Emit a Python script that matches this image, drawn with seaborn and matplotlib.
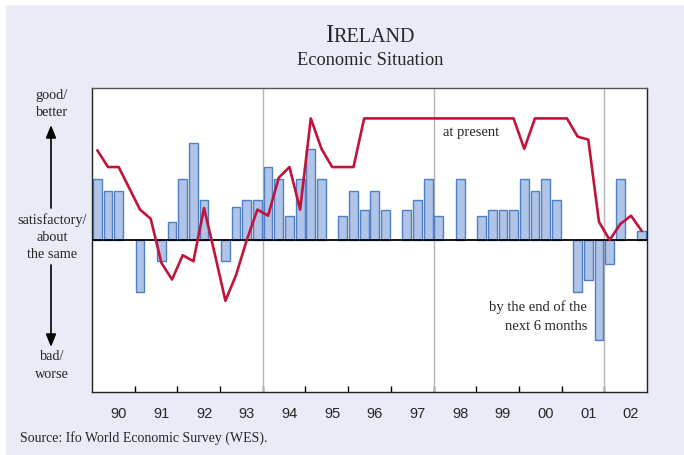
import numpy as np
import pandas as pd
import matplotlib
matplotlib.use("Agg")
import matplotlib.pyplot as plt
from matplotlib.patches import Rectangle, FancyArrowPatch
import seaborn as sns

# ---- data (quarterly, 1990Q1 .. 2002Q4; balance scale -100..100) ----
years = ["90", "91", "92", "93", "94", "95", "96", "97", "98", "99", "00", "01", "02"]
# expectations "by the end of the next 6 months" (bars); None = no survey
expect = [40, 32, 32, None, -34, None, -14, 12,
          40, 64, 26, None, -14, 22, 26, 26,
          48, 40, 16, 40, 60, 40, None, 16,
          32, 20, 32, 20, None, 20, 26, 40,
          16, None, 40, None, 16, 20, 20, 20,
          40, 32, 40, 26, None, -34, -26, -66,
          -16, 40, None, 6]
# "at present" (line)
present = [59, 48, 48, 34, 20, 14, -15, -26,
           -10, -14, 21, -9, -40, -23, 0, 20,
           16, 41, 48, 20, 80, 60, 48, 48,
           48, 80, 80, 80, 80, 80, 80, 80,
           80, 80, 80, 80, 80, 80, 80, 80,
           60, 80, 80, 80, 80, 68, 66, 12,
           0, 10.5, 16, 6]

quarter = np.arange(len(present))
df_bar = pd.DataFrame({"q": quarter, "v": expect}).dropna()
df_line = pd.DataFrame({"q": quarter, "v": present})

W, H = 684, 455
BG = "#E9EBF7"
SERIF = ["Liberation Serif", "DejaVu Serif"]
SANS = ["Liberation Sans", "DejaVu Sans"]

sns.set_style("white")
plt.rcParams["font.family"] = SERIF

fig = plt.figure(figsize=(W / 100, H / 100), dpi=100, facecolor="white")
fig.patches.append(Rectangle((6 / W, 0), 1 - 6 / W, 1 - 5 / H, transform=fig.transFigure,
                             facecolor=BG, edgecolor="none", zorder=-10))

ax = fig.add_axes([92 / W, 1 - 392 / H, (647 - 92) / W, (392 - 88) / H])
ax.set_facecolor("white")

sns.barplot(data=df_bar, x="q", y="v", native_scale=True, width=0.82,
            color="#AFC4E7", edgecolor="#4F80C6", linewidth=1.0, saturation=1,
            errorbar=None, ax=ax, zorder=2)
sns.lineplot(data=df_line, x="q", y="v", color="#C0143C", linewidth=1.9, ax=ax, zorder=4)

ax.axhline(0, color="black", linewidth=1.3, zorder=3)
for xv in (15.5, 31.5, 47.5):
    ax.axvline(xv, color="#B4B4B4", linewidth=1.0, zorder=1)

ax.set_xlim(-0.5, len(present) - 0.5)
ax.set_ylim(-100, 100)
ax.set_xlabel("")
ax.set_ylabel("")
ax.set_yticks([])
ax.set_xticks(np.arange(3.5, len(present) - 1, 4))
ax.set_xticklabels([])
ax.tick_params(axis="x", which="major", direction="in", length=4, width=1, color="black", bottom=True)
ax.set_xticks(np.arange(len(years)) * 4 + 2, minor=True)
ax.set_xticklabels(years, minor=True, fontfamily=SANS, fontsize=10.5)
ax.tick_params(axis="x", which="minor", length=0, pad=11)
for s in ax.spines.values():
    s.set_visible(True)
    s.set_color("#222222")
    s.set_linewidth(1.0)
ax.spines["top"].set_color("#555555")


def fx(px):
    return px / W


def fy(py):
    return 1 - py / H


# annotations inside plot (figure coords)
fig.text(fx(471), fy(132), "at present", ha="center", va="center", fontsize=10.5)
fig.text(fx(587), fy(307), "by the end of the", ha="right", va="center", fontsize=10.5)
fig.text(fx(587), fy(326), "next 6 months", ha="right", va="center", fontsize=10.5)

# left side labels
for txt, py in [("good/", 96), ("better", 112), ("satisfactory/", 220), ("about", 237),
                ("the same", 255), ("bad/", 356), ("worse", 375)]:
    fig.text(fx(52), fy(py), txt, ha="center", va="center", fontsize=10.3)

arrow_kw = dict(arrowstyle="-|>,head_length=0.55,head_width=0.22", color="black", lw=1.2,
                shrinkA=0, shrinkB=0, mutation_scale=14, transform=fig.transFigure)
fig.add_artist(FancyArrowPatch((fx(51), fy(208)), (fx(51), fy(125)), **arrow_kw))
fig.add_artist(FancyArrowPatch((fx(51), fy(265)), (fx(51), fy(347)), **arrow_kw))

# title in small caps
t1 = fig.text(0, fy(41.7), "I", fontsize=18, va="baseline", ha="left")
t2 = fig.text(0, fy(41.7), "RELAND", fontsize=14.5, va="baseline", ha="left")
fig.canvas.draw()
r = fig.canvas.get_renderer()
w1 = t1.get_window_extent(r).width
w2 = t2.get_window_extent(r).width
x0 = 370 - (w1 + w2) / 2
t1.set_x(fx(x0))
t2.set_x(fx(x0 + w1))
fig.text(fx(370), fy(65), "Economic Situation", fontsize=13.2, ha="center", va="baseline")

fig.text(fx(20), fy(438), "Source: Ifo World Economic Survey (WES).", fontsize=10,
         ha="left", va="center")

fig.savefig("out.png", dpi=100, facecolor="white")
